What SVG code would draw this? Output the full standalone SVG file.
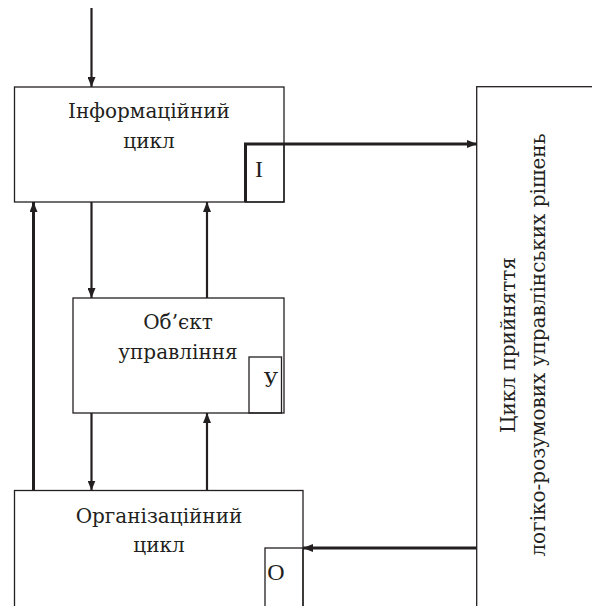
<svg xmlns="http://www.w3.org/2000/svg" width="592" height="606" viewBox="0 0 592 606">
<style>
.box{fill:#fff;stroke:#231f20;stroke-width:1.3}
.sub{fill:none;stroke:#231f20;stroke-width:1.3}
.t{font-family:'DejaVu Serif',serif;font-size:20px;fill:#231f20;text-anchor:middle}
.l{font-family:'Liberation Serif',serif;font-size:24px;fill:#231f20;text-anchor:middle}
.c{fill:none;stroke:#231f20;stroke-width:2.2}
.ck{fill:none;stroke:#231f20;stroke-width:3}
</style>
<defs>
<marker id="ah" viewBox="0 0 10 8" refX="10" refY="4" markerWidth="10" markerHeight="8" markerUnits="userSpaceOnUse" orient="auto">
<path d="M0,0 L10,4 L0,8 Z" fill="#231f20"/>
</marker>
</defs>
<g id="info">
<rect class="box" x="14.5" y="87" width="269.5" height="115"/>
<rect class="sub" x="245.5" y="144" width="38.5" height="58"/>
<text class="t" x="149" y="118">Інформаційний</text>
<text class="t" x="149" y="148">цикл</text>
<text class="l" x="259" y="177">I</text>
</g>
<g id="object">
<rect class="box" x="73" y="298" width="211" height="115"/>
<rect class="sub" x="249" y="357" width="32.5" height="56"/>
<text class="t" x="178" y="329">Об’єкт</text>
<text class="t" x="178" y="359">управління</text>
<text class="t" x="271" y="387">У</text>
</g>
<g id="org">
<rect class="box" x="14.5" y="490.5" width="288.5" height="130"/>
<rect class="sub" x="265" y="548" width="38" height="70"/>
<text class="t" x="159" y="523">Організаційний</text>
<text class="t" x="159" y="552">цикл</text>
<text class="l" x="276" y="580">O</text>
</g>
<g id="decision">
<rect class="box" x="476.7" y="86.7" width="130" height="530"/>
<text class="t" transform="translate(515,345) rotate(-90)">Цикл прийняття</text>
<text class="t" transform="translate(545,345) rotate(-90)">логіко-розумових управлінських рішень</text>
</g>
<g id="connectors">
<line class="c" x1="91.5" y1="8" x2="91.5" y2="87" marker-end="url(#ah)"/>
<path class="ck" d="M245.5,202 V144 H477" marker-end="url(#ah)"/>
<line class="ck" x1="33.5" y1="490.5" x2="33.5" y2="202" marker-end="url(#ah)"/>
<line class="c" x1="91.5" y1="202" x2="91.5" y2="298" marker-end="url(#ah)"/>
<line class="c" x1="207" y1="298" x2="207" y2="202" marker-end="url(#ah)"/>
<line class="c" x1="91.5" y1="413" x2="91.5" y2="490.5" marker-end="url(#ah)"/>
<line class="c" x1="207" y1="490.5" x2="207" y2="413" marker-end="url(#ah)"/>
<line class="ck" x1="476.7" y1="548" x2="303" y2="548" marker-end="url(#ah)"/>
</g>
</svg>
